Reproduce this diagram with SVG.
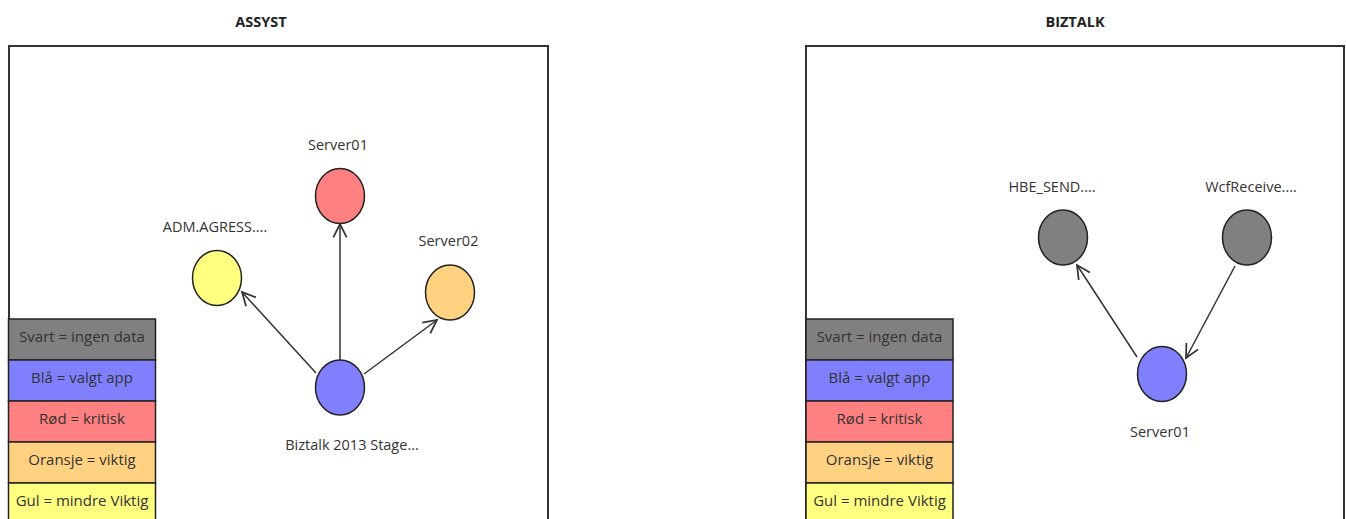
<svg xmlns="http://www.w3.org/2000/svg" width="1346" height="519" viewBox="0 0 1346 519">
  <style>
    .title { font-family: "Open Sans", "Liberation Sans", sans-serif; font-size: 14.5px; font-weight: bold; fill: #222; text-anchor: middle; }
    .frame { fill: #fff; stroke: #333; stroke-width: 2; }
    .label { font-family: "Open Sans", "Liberation Sans", sans-serif; font-size: 14.5px; fill: #333; text-anchor: middle; }
    .legend-row { stroke: #222; stroke-width: 1.5; }
    .legend-text { font-family: "Open Sans", "Liberation Sans", sans-serif; font-size: 15px; fill: #333; text-anchor: middle; }
    .node { stroke: #222; stroke-width: 1.5; }
    .edge { fill: none; stroke: #333; stroke-width: 1.5; marker-end: url(#open-arrow); }
    .c-black { fill: #808080; }
    .c-blue { fill: #8080ff; }
    .c-red { fill: #ff8080; }
    .c-orange { fill: #ffd282; }
    .c-yellow { fill: #ffff80; }
  </style>
  <defs>
    <marker id="open-arrow" viewBox="0 0 12 12" refX="11" refY="6" markerWidth="16" markerHeight="16" markerUnits="userSpaceOnUse" orient="auto" overflow="visible">
      <path d="M1,1 L11,6 L1,11" fill="none" stroke="#333" stroke-width="1.3"/>
    </marker>
  </defs>

  <rect width="1346" height="519" fill="#fff"/>

  <!-- ASSYST panel -->
  <g id="panel-assyst">
    <text class="title" x="261" y="27">ASSYST</text>
    <rect class="frame" x="9" y="46" width="539" height="490"/>
  </g>

  <!-- BIZTALK panel -->
  <g id="panel-biztalk">
    <text class="title" x="1075" y="27">BIZTALK</text>
    <rect class="frame" x="806" y="46" width="538" height="490"/>
  </g>

  <!-- colour legends -->
  <g id="legend-assyst">
    <rect class="legend-row c-black" x="8.5" y="319" width="147" height="41"/>
    <rect class="legend-row c-blue" x="8.5" y="360" width="147" height="41"/>
    <rect class="legend-row c-red" x="8.5" y="401" width="147" height="41"/>
    <rect class="legend-row c-orange" x="8.5" y="442" width="147" height="41"/>
    <rect class="legend-row c-yellow" x="8.5" y="483" width="147" height="41"/>
    <text class="legend-text" x="82" y="342">Svart = ingen data</text>
    <text class="legend-text" x="82" y="383">Blå = valgt app</text>
    <text class="legend-text" x="82" y="424">Rød = kritisk</text>
    <text class="legend-text" x="82" y="465">Oransje = viktig</text>
    <text class="legend-text" x="82" y="506">Gul = mindre Viktig</text>
  </g>
  <g id="legend-biztalk">
    <rect class="legend-row c-black" x="806" y="319" width="147" height="41"/>
    <rect class="legend-row c-blue" x="806" y="360" width="147" height="41"/>
    <rect class="legend-row c-red" x="806" y="401" width="147" height="41"/>
    <rect class="legend-row c-orange" x="806" y="442" width="147" height="41"/>
    <rect class="legend-row c-yellow" x="806" y="483" width="147" height="41"/>
    <text class="legend-text" x="879.5" y="342">Svart = ingen data</text>
    <text class="legend-text" x="879.5" y="383">Blå = valgt app</text>
    <text class="legend-text" x="879.5" y="424">Rød = kritisk</text>
    <text class="legend-text" x="879.5" y="465">Oransje = viktig</text>
    <text class="legend-text" x="879.5" y="506">Gul = mindre Viktig</text>
  </g>

  <!-- connectors -->
  <g id="connectors">
    <line class="edge" x1="340" y1="360" x2="340" y2="224"/>
    <line class="edge" x1="316" y1="373" x2="242" y2="292"/>
    <line class="edge" x1="364" y1="374" x2="437" y2="320"/>
    <line class="edge" x1="1137" y1="357" x2="1077" y2="265"/>
    <line class="edge" x1="1235" y1="266" x2="1186" y2="358"/>
  </g>

  <!-- ASSYST nodes -->
  <g id="node-assyst-server01">
    <ellipse class="node c-red" cx="340" cy="196" rx="24.5" ry="27.5"/>
    <text class="label" x="338" y="150">Server01</text>
  </g>
  <g id="node-adm-agress">
    <ellipse class="node c-yellow" cx="217" cy="278" rx="24.5" ry="27.5"/>
    <text class="label" x="215" y="232">ADM.AGRESS....</text>
  </g>
  <g id="node-assyst-server02">
    <ellipse class="node c-orange" cx="450" cy="292.5" rx="24.5" ry="27.5"/>
    <text class="label" x="448.5" y="246">Server02</text>
  </g>
  <g id="node-biztalk-stage">
    <ellipse class="node c-blue" cx="340" cy="387.5" rx="24.5" ry="27.5"/>
    <text class="label" x="352" y="450">Biztalk 2013 Stage...</text>
  </g>

  <!-- BIZTALK nodes -->
  <g id="node-hbe-send">
    <ellipse class="node c-black" cx="1063" cy="237.5" rx="24.5" ry="27.5"/>
    <text class="label" x="1052" y="192">HBE_SEND....</text>
  </g>
  <g id="node-wcfreceive">
    <ellipse class="node c-black" cx="1247" cy="237.5" rx="24.5" ry="27.5"/>
    <text class="label" x="1251" y="192">WcfReceive....</text>
  </g>
  <g id="node-biztalk-server01">
    <ellipse class="node c-blue" cx="1162" cy="374" rx="24.5" ry="27.5"/>
    <text class="label" x="1160" y="437">Server01</text>
  </g>
</svg>
